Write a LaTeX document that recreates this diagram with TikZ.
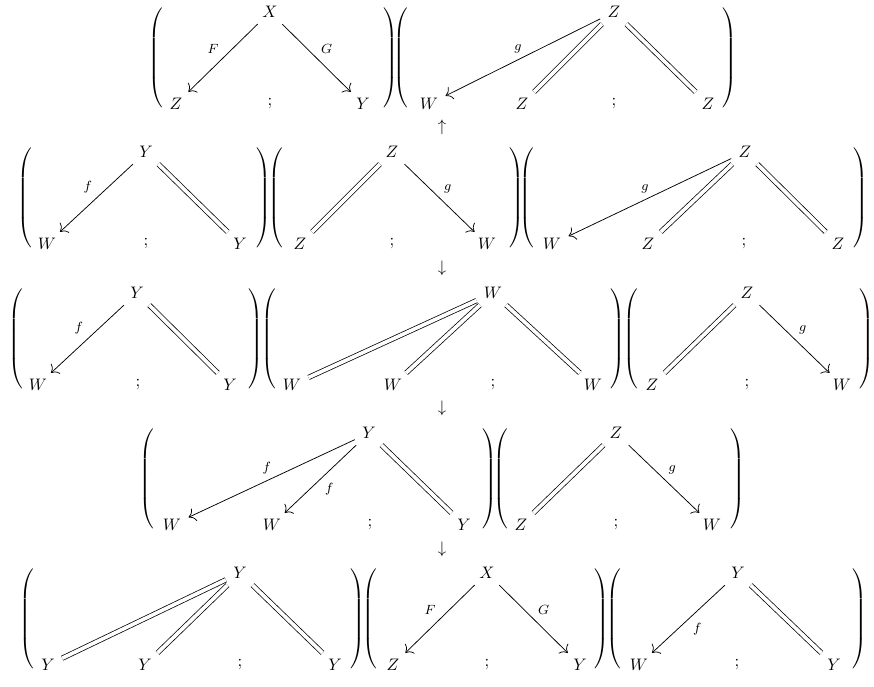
\documentclass[tikz,border=0pt]{standalone}
\usetikzlibrary{arrows.meta}
\newcommand\myLP{$\left(\vcenter{\hrule height 64pt width 0pt}\right.$}
\newcommand\myRP{$\left.\vcenter{\hrule height 64pt width 0pt}\right)$}
\tikzset{
  obj/.style={inner xsep=1ex, inner ysep=0.85ex, text height=6.8pt, text depth=0pt},
  semi/.style={inner sep=0pt},
  par/.style={inner sep=0pt},
  lbl/.style={font=\footnotesize, inner sep=2.5pt},
  map/.style={line width=0.45pt, -{Computer Modern Rightarrow[scale=1.5]}},
  eq/.style={line width=0.45pt, double, double distance=2.2pt, -},
}
\begin{document}
\begin{tikzpicture}[x=0.6pt,y=-0.6pt]
\useasboundingbox (0,0) rectangle (874,686);
% ---------- row 1 ----------
\node[par] (pa1L) at (157,58) {\myLP};
\node[obj] (a1t) at (270,12) {$X$};
\node[obj] (a1l) at (176,104) {$Z$};
\node[semi] (a1s) at (270,104) {$;$};
\node[obj] (a1r) at (363,104) {$Y$};
\node[par] (pa1R) at (390,58) {\myRP};
\node[par] (pb1L) at (402,58) {\myLP};
\node[obj] (b1t) at (614,12) {$Z$};
\node[obj] (b1w) at (429,104) {$W$};
\node[obj] (b1m) at (522,104) {$Z$};
\node[semi] (b1s) at (614,104) {$;$};
\node[obj] (b1r) at (708,104) {$Z$};
\node[par] (pb1R) at (729,58) {\myRP};
\node[semi] (up1) at (442,127) {$\uparrow$};
\draw[map] (a1t) -- node[lbl, above left] {$F$} (a1l);
\draw[map] (a1t) -- node[lbl, above right] {$G$} (a1r);
\draw[map] (b1t) -- node[lbl, above, xshift=-3pt] {$g$} (b1w);
\draw[eq] (b1t) -- (b1m);
\draw[eq] (b1t) -- (b1r);
% ---------- row 2 ----------
\node[par] (pa2L) at (26,198) {\myLP};
\node[obj] (a2t) at (146,152) {$Y$};
\node[obj] (a2l) at (47,244) {$W$};
\node[semi] (a2s) at (146,244) {$;$};
\node[obj] (a2r) at (240,244) {$Y$};
\node[par] (pa2R) at (263,198) {\myRP};
\node[par] (pb2L) at (277,198) {\myLP};
\node[obj] (b2t) at (392,152) {$Z$};
\node[obj] (b2l) at (300,244) {$Z$};
\node[semi] (b2s) at (392,244) {$;$};
\node[obj] (b2r) at (487,244) {$W$};
\node[par] (pb2R) at (516,198) {\myRP};
\node[par] (pc2L) at (528,198) {\myLP};
\node[obj] (c2t) at (745,152) {$Z$};
\node[obj] (c2w) at (552,244) {$W$};
\node[obj] (c2m) at (648,244) {$Z$};
\node[semi] (c2s) at (744,244) {$;$};
\node[obj] (c2r) at (838,244) {$Z$};
\node[par] (pc2R) at (860,198) {\myRP};
\node[semi] (dn2) at (442,268) {$\downarrow$};
\draw[map] (a2t) -- node[lbl, above left] {$f$} (a2l);
\draw[eq] (a2t) -- (a2r);
\draw[eq] (b2t) -- (b2l);
\draw[map] (b2t) -- node[lbl, above right] {$g$} (b2r);
\draw[map] (c2t) -- node[lbl, above, xshift=-3pt] {$g$} (c2w);
\draw[eq] (c2t) -- (c2m);
\draw[eq] (c2t) -- (c2r);
% ---------- row 3 ----------
\node[par] (pa3L) at (17,339) {\myLP};
\node[obj] (a3t) at (137,293) {$Y$};
\node[obj] (a3l) at (38,385) {$W$};
\node[semi] (a3s) at (138,385) {$;$};
\node[obj] (a3r) at (230,385) {$Y$};
\node[par] (pa3R) at (255,339) {\myRP};
\node[par] (pb3L) at (270,339) {\myLP};
\node[obj] (b3t) at (493,293) {$W$};
\node[obj] (b3w) at (292,385) {$W$};
\node[obj] (b3m) at (393,385) {$W$};
\node[semi] (b3s) at (493,385) {$;$};
\node[obj] (b3r) at (593,385) {$W$};
\node[par] (pb3R) at (617,339) {\myRP};
\node[par] (pc3L) at (632,339) {\myLP};
\node[obj] (c3t) at (747,293) {$Z$};
\node[obj] (c3l) at (652,385) {$Z$};
\node[semi] (c3s) at (747,385) {$;$};
\node[obj] (c3r) at (842,385) {$W$};
\node[par] (pc3R) at (866,339) {\myRP};
\node[semi] (dn3) at (442,408) {$\downarrow$};
\draw[map] (a3t) -- node[lbl, above left] {$f$} (a3l);
\draw[eq] (a3t) -- (a3r);
\draw[eq] (b3t) -- (b3w);
\draw[eq] (b3t) -- (b3m);
\draw[eq] (b3t) -- (b3r);
\draw[eq] (c3t) -- (c3l);
\draw[map] (c3t) -- node[lbl, above right] {$g$} (c3r);
% ---------- row 4 ----------
\node[par] (pa4L) at (148,479) {\myLP};
\node[obj] (a4t) at (369,433) {$Y$};
\node[obj] (a4w) at (172,525) {$W$};
\node[obj] (a4m) at (272,525) {$W$};
\node[semi] (a4s) at (370,525) {$;$};
\node[obj] (a4r) at (464,525) {$Y$};
\node[par] (pa4R) at (489,479) {\myRP};
\node[par] (pb4L) at (502,479) {\myLP};
\node[obj] (b4t) at (616,433) {$Z$};
\node[obj] (b4l) at (521,525) {$Z$};
\node[semi] (b4s) at (616,525) {$;$};
\node[obj] (b4r) at (712,525) {$W$};
\node[par] (pb4R) at (737,479) {\myRP};
\node[semi] (dn4) at (442,549) {$\downarrow$};
\draw[map] (a4t) -- node[lbl, above, xshift=-3pt] {$f$} (a4w);
\draw[map] (a4t) -- node[lbl, below right] {$f$} (a4m);
\draw[eq] (a4t) -- (a4r);
\draw[eq] (b4t) -- (b4l);
\draw[map] (b4t) -- node[lbl, above right] {$g$} (b4r);
% ---------- row 5 ----------
\node[par] (pa5L) at (28,619) {\myLP};
\node[obj] (a5t) at (240,573) {$Y$};
\node[obj] (a5w) at (48,665) {$Y$};
\node[obj] (a5m) at (145,665) {$Y$};
\node[semi] (a5s) at (240,665) {$;$};
\node[obj] (a5r) at (335,665) {$Y$};
\node[par] (pa5R) at (357,619) {\myRP};
\node[par] (pb5L) at (371,619) {\myLP};
\node[obj] (b5t) at (487,573) {$X$};
\node[obj] (b5l) at (393,665) {$Z$};
\node[semi] (b5s) at (487,665) {$;$};
\node[obj] (b5r) at (580,665) {$Y$};
\node[par] (pb5R) at (601,619) {\myRP};
\node[par] (pc5L) at (615,619) {\myLP};
\node[obj] (c5t) at (738,573) {$Y$};
\node[obj] (c5l) at (639,665) {$W$};
\node[semi] (c5s) at (737,665) {$;$};
\node[obj] (c5r) at (834,665) {$Y$};
\node[par] (pc5R) at (859,619) {\myRP};
\draw[eq] (a5t) -- (a5w);
\draw[eq] (a5t) -- (a5m);
\draw[eq] (a5t) -- (a5r);
\draw[map] (b5t) -- node[lbl, above left] {$F$} (b5l);
\draw[map] (b5t) -- node[lbl, above right] {$G$} (b5r);
\draw[map] (c5t) -- node[lbl, below right] {$f$} (c5l);
\draw[eq] (c5t) -- (c5r);
\end{tikzpicture}
\end{document}
